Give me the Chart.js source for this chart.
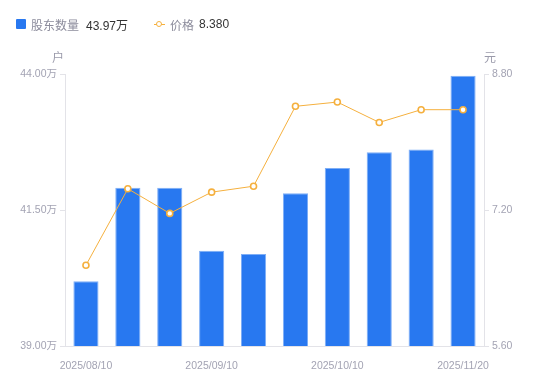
<!DOCTYPE html>
<html>
<head>
<meta charset="utf-8">
<script src="https://cdn.jsdelivr.net/npm/chart.js@4"></script>
<style>
  html, body { margin:0; padding:0; background:#fff; }
  #wrap { position:relative; width:550px; height:381px; font-family:"Liberation Sans","Noto Sans CJK SC",sans-serif; }
  #c { position:absolute; left:0; top:0; }
  #legend { position:absolute; left:16px; top:15px; height:18px; display:flex; align-items:center; font-size:12px; white-space:nowrap; }
  .sq { display:inline-block; width:10px; height:10px; background:#2878f0; border-radius:1px; margin-right:5px; }
  .lbl { color:#8c8c9c; }
  .val { color:#333; margin-left:7px; }
  .li { position:relative; display:inline-block; width:11px; height:10px; margin-right:5px; }
  .li:before { content:""; position:absolute; left:0; right:0; top:4.5px; height:1px; background:#f5b03e; }
  .li:after { content:""; position:absolute; left:2px; top:1.5px; width:4px; height:4px; border:1.5px solid #f5b03e; border-radius:50%; background:#fff; }
</style>
</head>
<body>
<div id="wrap">
  <canvas id="c" width="550" height="381"></canvas>
  <div id="legend">
    <span class="sq"></span><span class="lbl">股东数量</span><span class="val">43.97万</span>
    <span style="display:inline-block;width:26px"></span>
    <span class="li"></span><span class="lbl">价格</span><span class="val" style="margin-left:5px">8.380</span>
  </div>
</div>
<script>
const categories = ['2025/08/10','2025/08/20','2025/08/31','2025/09/10','2025/09/19','2025/09/30','2025/10/10','2025/10/20','2025/10/31','2025/11/20'];
const holders = [40.19, 41.91, 41.91, 40.75, 40.69, 41.81, 42.27, 42.56, 42.61, 43.97];
const prices = [6.55, 7.45, 7.16, 7.41, 7.48, 8.42, 8.47, 8.23, 8.38, 8.38];
const leftTicks = [39.00, 41.50, 44.00];
const rightTicks = [5.60, 7.20, 8.80];

const tickFont = { family: '"Liberation Sans","Noto Sans CJK SC",sans-serif', size: 10.5 };
const tickColor = '#a3a3b3';
const axisColor = '#e3e3e8';

const axisTitles = {
  id: 'axisTitles',
  afterDraw(chart) {
    const ctx = chart.ctx;
    const a = chart.chartArea;
    ctx.save();
    ctx.font = '12px "Noto Sans CJK SC","Noto Sans",sans-serif';
    ctx.fillStyle = '#9a9aaa';
    ctx.textAlign = 'center';
    ctx.textBaseline = 'middle';
    ctx.fillText('户', a.left - 7, a.top - 17);
    ctx.fillText('元', a.right + 6, a.top - 17);
    ctx.restore();
  }
};

new Chart(document.getElementById('c'), {
  data: {
    labels: categories,
    datasets: [
      {
        type: 'line', label: '价格', data: prices, yAxisID: 'y1', order: 0,
        borderColor: '#f5b03e', borderWidth: 1, tension: 0,
        pointRadius: 3, pointBorderWidth: 1.6, pointBackgroundColor: '#fff', pointBorderColor: '#f5b03e'
      },
      {
        type: 'bar', label: '股东数量', data: holders, yAxisID: 'y', order: 1,
        backgroundColor: '#2878f0', borderColor: '#7eaef6', borderWidth: 1,
        barPercentage: 0.6, categoryPercentage: 1.0
      }
    ]
  },
  options: {
    responsive: false, animation: false,
    layout: { padding: { top: 74, left: 0, right: 0, bottom: 0 } },
    plugins: { legend: { display: false }, tooltip: { enabled: false } },
    scales: {
      x: {
        grid: { display: false },
        border: { display: true, color: axisColor },
        ticks: {
          autoSkip: false, maxRotation: 0, padding: 6, color: tickColor, font: tickFont,
          callback: function(v, i) { return i % 3 === 0 ? categories[i] : ''; }
        },
        afterFit: s => { s.height = 35; }
      },
      y: {
        position: 'left', min: leftTicks[0], max: leftTicks[2],
        afterBuildTicks: s => { s.ticks = leftTicks.map(v => ({ value: v })); },
        grid: { drawOnChartArea: false, drawTicks: true, tickLength: 5, color: axisColor },
        border: { display: true, color: axisColor },
        ticks: { padding: 3, color: tickColor, font: tickFont, callback: v => Number(v).toFixed(2) + '万' },
        afterFit: s => { s.width = 65; }
      },
      y1: {
        position: 'right', min: rightTicks[0], max: rightTicks[2],
        afterBuildTicks: s => { s.ticks = rightTicks.map(v => ({ value: v })); },
        grid: { drawOnChartArea: false, drawTicks: true, tickLength: 5, color: axisColor },
        border: { display: true, color: axisColor },
        ticks: { padding: 3, color: tickColor, font: tickFont, callback: v => Number(v).toFixed(2) },
        afterFit: s => { s.width = 66; }
      }
    }
  },
  plugins: [axisTitles]
});
</script>
</body>
</html>
